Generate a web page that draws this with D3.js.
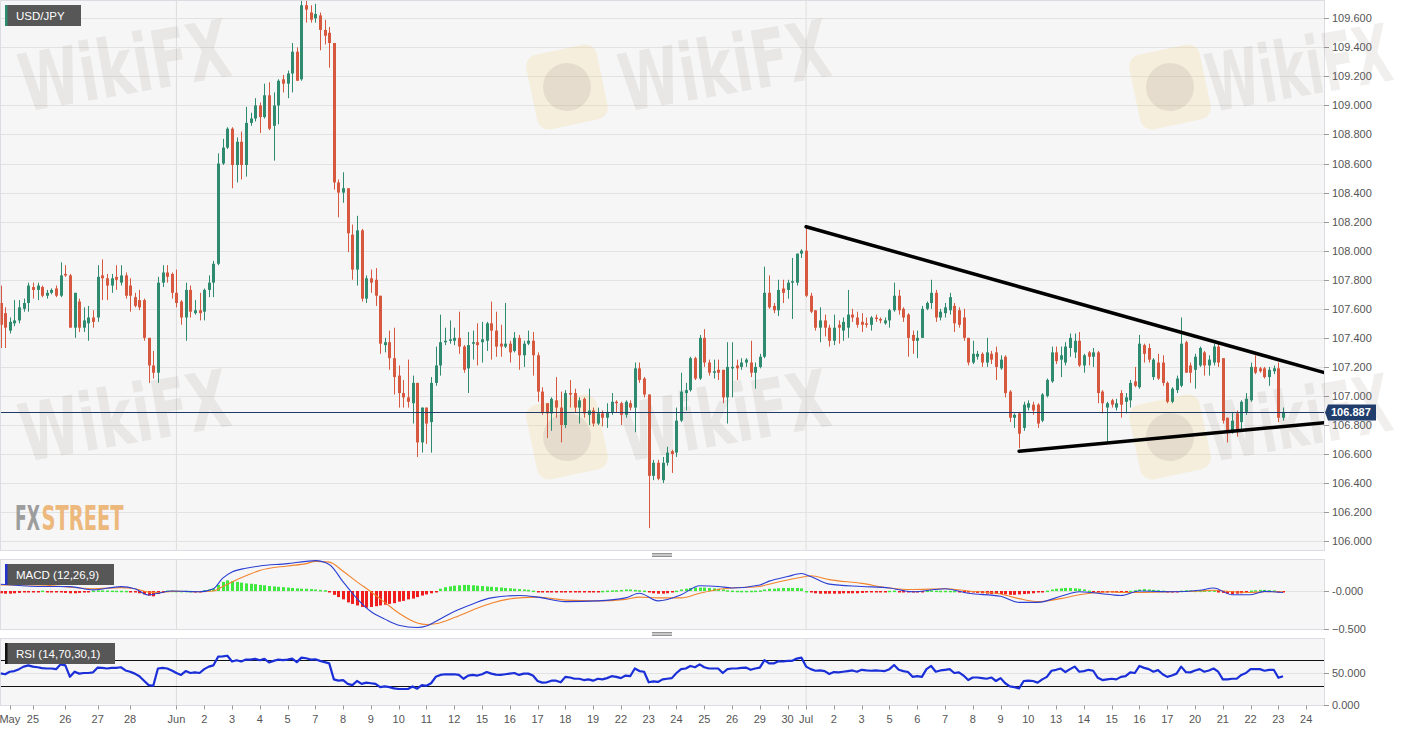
<!DOCTYPE html>
<html>
<head>
<meta charset="utf-8">
<script src="https://cdn.jsdelivr.net/npm/d3@7"></script>
<style>
  html, body { margin: 0; padding: 0; background: #fff; }
  svg { display: block; font-family: "Liberation Sans", Arial, sans-serif; }
</style>
</head>
<body>
<div id="chart"></div>
<script>
// USD/JPY 4h candles, May 22 - Jul 23
var openP = [
 107.64,107.57,107.45,107.50,107.52,107.60,107.64,107.75,107.73,107.75,
 107.69,107.71,107.74,107.69,107.84,107.83,107.47,107.65,107.47,107.50,
 107.54,107.54,107.83,107.81,107.76,107.82,107.78,107.83,107.76,107.68,
 107.66,107.66,107.40,107.21,107.16,107.78,107.85,107.84,107.71,107.65,
 107.54,107.73,107.57,107.59,107.58,107.73,107.78,107.91,108.60,108.71,
 108.84,108.59,108.75,108.59,108.88,108.91,109.00,108.92,109.07,108.86,
 109.00,109.18,109.15,109.22,109.37,109.18,109.69,109.64,109.60,109.62,
 109.52,109.50,109.43,108.47,108.40,108.43,108.11,107.87,108.14,107.67,
 107.81,107.80,107.69,107.35,107.37,107.26,107.14,107.02,106.99,106.95,
 107.09,106.68,106.92,106.82,107.09,107.21,107.37,107.38,107.38,107.40,
 107.34,107.19,107.36,107.37,107.37,107.38,107.50,107.45,107.36,107.34,
 107.36,107.31,107.40,107.28,107.36,107.38,107.28,107.03,106.95,106.88,
 106.97,106.92,106.80,107.02,107.02,106.92,106.98,106.87,106.90,106.81,
 106.88,106.85,106.89,106.96,106.95,106.87,106.95,106.92,107.19,107.12,
 107.01,106.45,106.54,106.42,106.54,106.62,106.61,106.83,107.02,107.04,
 107.26,107.12,107.40,107.23,107.16,107.18,107.18,106.99,107.19,107.21,
 107.20,107.23,107.23,107.16,107.20,107.27,107.71,107.62,107.59,107.74,
 107.73,107.78,107.78,107.98,108.00,107.69,107.59,107.47,107.52,107.47,
 107.38,107.49,107.45,107.47,107.56,107.54,107.51,107.50,107.49,107.54,
 107.53,107.50,107.52,107.59,107.69,107.60,107.56,107.42,107.38,107.40,
 107.60,107.64,107.71,107.54,107.57,107.59,107.62,107.59,107.54,107.40,
 107.23,107.27,107.29,107.23,107.29,107.30,107.19,107.27,107.03,106.85,
 106.88,106.78,106.92,106.94,106.94,106.83,107.00,107.10,107.30,107.25,
 107.23,107.33,107.30,107.38,107.21,107.30,107.27,107.30,107.03,106.92,
 106.97,106.92,107.02,106.96,106.97,107.10,107.06,107.35,107.33,107.13,
 107.23,107.23,107.09,106.96,107.04,107.07,107.37,107.21,107.18,107.21,
 107.30,107.21,107.23,107.34,107.26,106.85,106.76,106.88,106.82,106.89,
 106.97,107.20,107.19,107.19,107.13,107.17,107.19,106.85
];
var highP = [
 107.76,107.61,107.54,107.66,107.66,107.67,107.78,107.78,107.78,107.76,
 107.73,107.74,107.76,107.92,107.90,107.84,107.71,107.67,107.61,107.62,
 107.59,107.90,107.94,107.84,107.84,107.90,107.90,107.85,107.81,107.71,
 107.73,107.67,107.40,107.31,107.82,107.90,107.90,107.85,107.87,107.66,
 107.78,107.76,107.66,107.71,107.74,107.83,107.93,108.67,108.77,108.85,
 108.85,108.78,108.82,108.99,108.95,109.05,109.02,109.15,109.16,109.09,
 109.18,109.21,109.24,109.43,109.40,109.72,109.72,109.69,109.70,109.64,
 109.59,109.54,109.43,108.49,108.54,108.43,108.18,108.24,108.15,107.83,
 107.87,107.88,107.69,107.40,107.45,107.47,107.21,107.11,107.25,107.14,
 107.09,106.92,106.92,107.13,107.34,107.56,107.47,107.52,107.47,107.58,
 107.35,107.44,107.45,107.50,107.51,107.51,107.65,107.58,107.49,107.64,
 107.38,107.44,107.42,107.38,107.45,107.44,107.30,107.06,106.95,106.99,
 107.13,107.03,107.04,107.11,107.05,106.99,106.99,107.05,106.92,106.92,
 106.90,106.95,107.02,106.97,106.96,106.97,106.97,107.23,107.23,107.13,
 107.01,106.56,106.56,106.58,106.65,106.63,106.92,107.16,107.09,107.27,
 107.27,107.42,107.46,107.25,107.25,107.25,107.18,107.37,107.37,107.25,
 107.26,107.26,107.38,107.23,107.29,107.89,107.83,107.64,107.80,107.80,
 107.80,107.95,107.98,108.01,108.16,107.71,107.59,107.61,107.56,107.49,
 107.56,107.52,107.54,107.73,107.60,107.58,107.57,107.54,107.55,107.56,
 107.54,107.54,107.60,107.78,107.73,107.61,107.57,107.45,107.45,107.62,
 107.65,107.80,107.73,107.60,107.64,107.71,107.64,107.61,107.60,107.40,
 107.38,107.31,107.30,107.40,107.31,107.34,107.28,107.28,107.04,106.88,
 106.89,106.96,106.97,106.96,106.95,107.02,107.12,107.34,107.34,107.34,
 107.37,107.43,107.43,107.44,107.29,107.31,107.33,107.31,107.04,106.96,
 106.98,106.98,107.04,107.02,107.11,107.20,107.42,107.36,107.36,107.26,
 107.29,107.28,107.10,107.06,107.14,107.54,107.38,107.23,107.29,107.34,
 107.31,107.28,107.36,107.36,107.26,106.85,106.89,106.90,106.97,107.02,
 107.23,107.28,107.20,107.20,107.20,107.21,107.23,106.92
];
var lowP = [
 107.33,107.33,107.43,107.48,107.50,107.58,107.58,107.67,107.66,107.68,
 107.67,107.70,107.68,107.68,107.82,107.47,107.40,107.44,107.44,107.38,
 107.47,107.51,107.66,107.66,107.71,107.73,107.76,107.67,107.58,107.61,
 107.59,107.38,107.09,107.12,107.09,107.75,107.78,107.67,107.61,107.49,
 107.38,107.54,107.56,107.52,107.52,107.68,107.68,107.90,108.59,108.70,
 108.43,108.47,108.49,108.51,108.86,108.89,108.81,108.91,108.83,108.62,
 108.87,109.09,109.05,109.09,109.17,109.17,109.57,109.57,109.57,109.38,
 109.42,109.26,108.42,108.23,108.33,107.99,107.80,107.76,107.65,107.64,
 107.71,107.62,107.29,107.30,107.18,107.01,106.92,106.92,106.92,106.81,
 106.58,106.61,106.67,106.61,107.07,107.14,107.35,107.36,107.35,107.29,
 107.16,107.02,107.25,107.21,107.23,107.31,107.25,107.27,107.27,107.33,
 107.23,107.30,107.18,107.20,107.35,107.14,106.96,106.87,106.71,106.76,
 106.85,106.68,106.78,106.92,106.89,106.81,106.85,106.80,106.79,106.80,
 106.79,106.78,106.87,106.89,106.80,106.85,106.90,106.75,107.09,106.99,
 106.09,106.42,106.42,106.40,106.52,106.47,106.58,106.82,106.90,107.03,
 107.11,107.11,107.20,107.14,107.12,107.11,106.95,106.81,106.99,107.11,
 107.18,107.20,107.13,107.05,107.19,107.26,107.60,107.57,107.55,107.64,
 107.67,107.53,107.76,107.95,107.68,107.57,107.45,107.37,107.41,107.34,
 107.35,107.36,107.38,107.40,107.51,107.47,107.44,107.47,107.45,107.51,
 107.50,107.49,107.47,107.58,107.56,107.51,107.27,107.29,107.26,107.40,
 107.59,107.60,107.51,107.52,107.54,107.56,107.44,107.47,107.38,107.21,
 107.22,107.25,107.20,107.20,107.22,107.11,107.18,106.99,106.82,106.78,
 106.64,106.76,106.90,106.87,106.78,106.82,106.99,107.09,107.22,107.13,
 107.21,107.27,107.26,107.20,107.16,107.21,107.20,106.95,106.88,106.68,
 106.92,106.90,106.85,106.88,106.92,107.06,107.05,107.23,107.23,107.11,
 107.11,107.07,106.95,106.95,107.02,107.06,107.16,107.09,107.05,107.20,
 107.14,107.14,107.21,107.20,106.81,106.68,106.74,106.72,106.76,106.87,
 106.96,107.15,107.16,107.12,107.07,107.15,106.82,106.83
];
var closeP = [
 107.49,107.47,107.51,107.52,107.61,107.64,107.76,107.73,107.76,107.69,
 107.71,107.73,107.69,107.83,107.83,107.47,107.71,107.47,107.52,107.54,
 107.51,107.82,107.81,107.76,107.81,107.80,107.83,107.69,107.69,107.62,
 107.61,107.40,107.21,107.16,107.78,107.85,107.82,107.71,107.64,107.54,
 107.73,107.58,107.59,107.57,107.73,107.78,107.91,108.60,108.71,108.84,
 108.59,108.75,108.59,108.88,108.91,109.00,108.92,109.07,108.84,109.00,
 109.17,109.15,109.22,109.37,109.17,109.69,109.66,109.59,109.63,109.52,
 109.48,109.43,108.47,108.40,108.43,108.12,107.87,108.14,107.67,107.81,
 107.78,107.69,107.36,107.37,107.26,107.13,107.02,106.99,106.96,107.09,
 106.68,106.92,106.81,107.09,107.21,107.37,107.38,107.39,107.40,107.34,
 107.18,107.35,107.37,107.35,107.39,107.50,107.45,107.34,107.34,107.36,
 107.30,107.40,107.28,107.36,107.38,107.28,107.03,106.89,106.88,106.98,
 106.92,106.80,107.02,107.01,106.92,106.97,106.88,106.90,106.81,106.88,
 106.85,106.89,106.96,106.95,106.87,106.96,106.92,107.19,107.11,107.01,
 106.45,106.54,106.43,106.54,106.61,106.60,106.83,107.03,107.04,107.26,
 107.12,107.40,107.23,107.16,107.17,107.16,106.99,107.20,107.20,107.19,
 107.23,107.25,107.16,107.20,107.27,107.71,107.61,107.59,107.73,107.71,
 107.78,107.79,107.98,108.00,107.69,107.58,107.47,107.52,107.47,107.38,
 107.47,107.47,107.51,107.56,107.54,107.49,107.49,107.49,107.54,107.53,
 107.52,107.52,107.59,107.69,107.59,107.54,107.40,107.38,107.40,107.60,
 107.64,107.71,107.54,107.58,107.61,107.68,107.50,107.49,107.40,107.23,
 107.29,107.29,107.23,107.30,107.25,107.20,107.25,107.02,106.85,106.87,
 106.74,106.94,106.95,106.90,106.81,107.01,107.11,107.30,107.24,107.28,
 107.34,107.40,107.38,107.21,107.28,107.27,107.30,107.02,106.95,106.95,
 106.94,106.95,106.94,106.99,107.09,107.07,107.36,107.29,107.25,107.25,
 107.12,107.09,106.96,107.05,107.12,107.36,107.16,107.16,107.27,107.33,
 107.21,107.25,107.34,107.23,106.83,106.76,106.83,106.76,106.96,106.98,
 107.20,107.16,107.17,107.13,107.18,107.19,106.85,106.887
];

// MACD (12,26,9): lines read at these candle positions
var macdAt = [0,8,15,20,26,29,32,34,37,43,46,48,50,53,56,62,66,68,71,74,77,80,83,86,90,92,94,98,102,106,
  112,116,122,129,135,138,142,147,151,155,158,164,166,170,173,175,179,186,192,197,204,209,216,220,224,229,
  233,240,242,246,253,259,262,266,270,273,277];
var macdLine = [0.088,0.06,0.057,0.015,0.057,0.03,-0.053,-0.03,0.0,-0.01,0.03,0.17,0.25,0.30,0.33,0.36,0.39,0.40,0.35,0.12,
  -0.10,-0.27,-0.37,-0.45,-0.48,-0.46,-0.40,-0.27,-0.17,-0.09,-0.06,-0.08,-0.14,-0.13,-0.09,-0.03,-0.13,-0.05,0.07,0.06,
  0.04,0.08,0.13,0.19,0.23,0.19,0.09,0.06,0.04,-0.01,0.03,-0.03,-0.07,-0.15,-0.15,-0.07,-0.01,-0.05,-0.06,0.0,
  -0.01,0.01,0.04,-0.05,-0.05,-0.005,-0.02];
var signalLine = [0.079,0.079,0.05,0.03,0.045,0.03,-0.015,-0.02,-0.005,-0.01,0.0,0.06,0.12,0.20,0.27,0.33,0.36,0.39,0.38,0.26,
  0.12,-0.01,-0.15,-0.29,-0.42,-0.44,-0.43,-0.35,-0.25,-0.16,-0.09,-0.08,-0.12,-0.13,-0.11,-0.08,-0.09,-0.09,-0.03,0.02,
  0.04,0.06,0.09,0.145,0.18,0.20,0.15,0.10,0.04,0.02,0.03,0.0,-0.04,-0.10,-0.14,-0.10,-0.05,-0.01,-0.02,-0.02,
  -0.01,0.0,0.01,-0.01,-0.02,-0.01,-0.01];
var macdHist = [
 -0.03,-0.035,-0.035,-0.03,-0.025,-0.015,-0.01,-0.005,-0.005,0.005,
 -0.005,-0.01,-0.015,-0.02,-0.025,-0.03,-0.03,-0.025,-0.02,-0.01,
 0.005,0.008,0.008,0.006,0.005,0.004,0.003,0.002,-0.005,-0.015,
 -0.03,-0.045,-0.06,-0.07,-0.04,-0.01,0.005,0.004,0.003,0.002,
 0.003,0.002,-0.003,-0.002,0.01,0.02,0.03,0.08,0.12,0.14,
 0.13,0.12,0.11,0.10,0.095,0.09,0.08,0.075,0.065,0.06,
 0.055,0.05,0.045,0.04,0.035,0.03,0.03,0.025,0.02,0.015,
 0.01,-0.01,-0.05,-0.08,-0.11,-0.15,-0.17,-0.19,-0.21,-0.22,
 -0.21,-0.2,-0.19,-0.18,-0.17,-0.16,-0.14,-0.13,-0.11,-0.1,
 -0.08,-0.06,-0.045,-0.03,-0.005,0.03,0.05,0.06,0.07,0.075,
 0.08,0.08,0.075,0.07,0.065,0.06,0.055,0.05,0.045,0.04,
 0.035,0.03,0.025,0.02,0.015,0.005,-0.005,-0.01,-0.015,-0.02,
 -0.02,-0.02,-0.02,-0.02,-0.015,-0.01,-0.01,-0.005,-0.005,-0.003,
 0.002,0.005,0.008,0.01,0.015,0.02,0.02,0.015,0.01,0.005,
 -0.01,-0.03,-0.035,-0.035,-0.03,-0.02,0.005,0.02,0.03,0.04,
 0.045,0.045,0.045,0.04,0.035,0.03,0.02,0.01,0.005,0.003,
 0.002,0.002,0.003,0.005,0.008,0.02,0.03,0.03,0.035,0.04,
 0.04,0.04,0.04,0.035,0.0,-0.02,-0.03,-0.035,-0.035,-0.035,
 -0.035,-0.035,-0.03,-0.03,-0.03,-0.03,-0.025,-0.02,-0.015,-0.015,
 -0.01,-0.005,0.003,0.005,-0.005,-0.01,-0.015,-0.02,-0.02,-0.01,
 0.005,0.008,0.005,0.003,0.003,0.002,0.002,-0.003,-0.01,-0.015,
 -0.02,-0.025,-0.03,-0.035,-0.04,-0.04,-0.04,-0.045,-0.05,-0.05,
 -0.045,-0.04,-0.035,-0.03,-0.02,-0.01,0.005,0.02,0.03,0.035,
 0.04,0.04,0.035,0.03,0.02,0.005,-0.005,-0.01,-0.015,-0.015,
 -0.015,-0.01,-0.01,-0.005,0.003,0.01,0.02,0.025,0.02,0.015,
 0.01,0.005,-0.003,-0.005,-0.003,0.005,0.01,0.008,0.005,0.005,
 0.008,0.01,0.008,-0.01,-0.025,-0.035,-0.04,-0.035,-0.03,-0.02,
 0.005,0.01,0.015,0.015,0.01,0.008,-0.005,-0.01
];

// RSI (14)
var rsi = [
 49.5,48,52,53,56,60,62,60,59,57.5,
 57,57,56,63.5,62,44,52,49,50,50,
 51,58.5,58,57,58,58,59,54,52,49,
 45,38,31,30,57,58,57,54,50,47,
 53,50,51,50,56,60,62,75.5,76,77,
 68,70,68,71,71,72,70,72,66.5,69,
 71,70,71,72.5,67,74,73,71,71.5,69,
 67,65,40,38,39,33,31,37.5,33,35,
 34,33,28,29,28,26,25,25,25,29,
 25.5,31,30,34,44,47,48,48,48,47,
 41,46,47,46,48,51.5,49,47.5,47,48,
 49,50,47,49,49,46,37.5,35,35.5,38,
 38,35.5,44,43,41,41,39,40,38,41,
 40,42,45,44,42,46,45,57,53,52,
 35.5,37,36,40,41,42,50,56,57,61,
 59,63.5,59,57,57,57,50,56,57,57,
 58,58.5,55,57,58.5,70,65,65,68.5,68,
 69,69,72.5,74,60,56,53.5,54,53,48.5,
 51.5,51,52,53,54,52,55,54,53.5,54,
 53.5,53,56,62.5,55,53,51.5,44,45,44,
 56,61,52,54,55,56,50,51,46,39,
 43,43,42,41,43,37.5,42,34,29,28,
 26,37.5,38,37.5,35,40,44,53.5,55,57,
 51.5,56,60,52,53,55,53.5,42.5,39,40,
 41,40,44,45,51,50,61,58,56,52,
 54.5,48,44,46,49,60,51.5,51,54,56,
 52,54,57,52,40,40,41,41,47,50,
 56,56,56,53.5,55,55,42.5,45
];

// x-axis tick labels and the candle they sit on
var tickLabels = ["May","25","26","27","28","Jun","2","3","4","5","7","8","9","10","11","12","15","16","17","18","19",
  "22","23","24","25","26","29","30","Jul","2","3","5","6","7","8","9","10","13","14","15","16","17","20","21","22","23","24"];
var tickAt = [2,7,14,21,28,38,44,50,56,62,68,74,80,86,92,98,104,110,116,122,128,
  134,140,146,152,158,164,170,174,180,186,192,198,204,210,216,222,228,234,240,246,252,258,264,270,276,282];
var monthAt = [38, 174];

var priceTicks = d3.range(106, 109.61, 0.2);
var lastPrice = 106.887;

// hand drawn triangle: [candle, price]
var upperLine = [[174, 108.165], [286, 107.16]];
var lowerLine = [[220, 106.62], [286, 106.816]];

var W = 1413, H = 732, panelW = 1324;
var main = {top: 0.5, bottom: 550.5};
var macdP = {top: 559.5, bottom: 629.5};
var rsiP = {top: 638.5, bottom: 705.5};

var green = "#2f8b6f", red = "#d6583f";

var svg = d3.select("#chart").append("svg")
  .attr("width", W)
  .attr("height", H);

var x = d3.scaleLinear().domain([0, 286]).range([0.5, 0.5 + 286 * 4.63]);
var y = d3.scaleLinear().domain([106, 109.6]).range([541.2, 18.3]);
var yM = d3.scaleLinear().domain([-0.5, 0]).range([629, 591]);
var yR = d3.scaleLinear().domain([0, 50]).range([705, 673]);

// shrink a text's font to a given width; returns the y-stretch that keeps its height
function fitText(sel, w) {
  var fs = +sel.attr("font-size");
  var len = sel.node().getComputedTextLength();
  var nfs = fs * w / len;
  sel.attr("font-size", nfs);
  return fs / nfs;
}

var defs = svg.append("defs");
[["clipMain", main], ["clipMacd", macdP], ["clipRsi", rsiP]].forEach(function(c) {
  defs.append("clipPath").attr("id", c[0])
    .append("rect")
    .attr("x", 0.5).attr("y", c[1].top)
    .attr("width", panelW - 0.5).attr("height", c[1].bottom - c[1].top);
});

// panel backgrounds
[main, macdP, rsiP].forEach(function(p) {
  svg.append("rect")
    .attr("x", 0.5).attr("y", p.top)
    .attr("width", panelW).attr("height", p.bottom - p.top)
    .attr("fill", "#f6f6f6")
    .attr("stroke", "#dcdde3");
});

// month lines
[main, macdP, rsiP].forEach(function(p) {
  svg.selectAll(null).data(monthAt).enter().append("line")
    .attr("x1", function(d) { return x(d); }).attr("x2", function(d) { return x(d); })
    .attr("y1", p.top).attr("y2", p.bottom)
    .attr("stroke", "#dedede");
});

// horizontal grid, main
svg.append("g").selectAll("line").data(priceTicks).enter().append("line")
  .attr("x1", 1).attr("x2", panelW)
  .attr("y1", function(d) { return Math.round(y(d)) + 0.5; })
  .attr("y2", function(d) { return Math.round(y(d)) + 0.5; })
  .attr("stroke", "#e2e2e2");

// grid in the indicator panels
svg.append("line").attr("x1", 1).attr("x2", panelW)
  .attr("y1", yM(0) + 0.5).attr("y2", yM(0) + 0.5).attr("stroke", "#e2e2e2");
svg.append("line").attr("x1", 1).attr("x2", panelW)
  .attr("y1", yR(50) + 0.5).attr("y2", yR(50) + 0.5).attr("stroke", "#e2e2e2");

// right axis
var axisG = svg.append("g").attr("font-size", 11).attr("fill", "#555");
function rightTicks(vals, scale, fmt) {
  vals.forEach(function(v) {
    var yy = Math.round(scale(v)) + 0.5;
    axisG.append("line").attr("x1", panelW).attr("x2", panelW + 5)
      .attr("y1", yy).attr("y2", yy).attr("stroke", "#999");
    axisG.append("text").attr("x", panelW + 8).attr("y", yy).attr("dy", "0.35em")
      .text(fmt(v));
  });
}
rightTicks(priceTicks, y, d3.format(".3f"));
rightTicks([0, -0.5], yM, function(v) { return v === 0 ? "-0.000" : d3.format(".3f")(v); });
rightTicks([50, 0], yR, d3.format(".3f"));

// x axis
var xa = svg.append("g").attr("font-size", 11).attr("fill", "#555");
xa.selectAll("line").data(tickAt).enter().append("line")
  .attr("x1", function(d) { return Math.round(x(d)) + 0.5; })
  .attr("x2", function(d) { return Math.round(x(d)) + 0.5; })
  .attr("y1", rsiP.bottom).attr("y2", rsiP.bottom + 4)
  .attr("stroke", "#999");
xa.selectAll("text").data(tickLabels).enter().append("text")
  .attr("x", function(d, i) { return x(tickAt[i]); })
  .attr("y", 723)
  .attr("text-anchor", "middle")
  .text(function(d) { return d; });

// WikiFX watermarks (drawn under the marks)
var wm = svg.append("g").attr("pointer-events", "none");
function wmText(tx, ty, len) {
  var t = wm.append("text")
    .attr("font-family", "'Liberation Sans Narrow', 'DejaVu Sans Condensed', sans-serif")
    .attr("font-weight", "bold").attr("font-size", 80)
    .attr("fill", "#8c7a76").attr("fill-opacity", 0.12)
    .text("WikiFX");
  var k = fitText(t, len);
  t.attr("transform", "translate(" + tx + "," + ty + ") rotate(-10) scale(1," + k + ")");
}
function wmLogo(cx, cy) {
  var g = wm.append("g").attr("transform", "translate(" + cx + "," + cy + ") rotate(-12)");
  g.append("rect").attr("x", -36).attr("y", -38).attr("width", 72).attr("height", 76).attr("rx", 12)
    .attr("fill", "#f3d37a").attr("fill-opacity", 0.2);
  g.append("circle").attr("r", 24).attr("fill", "#8c7a76").attr("fill-opacity", 0.15);
}
[0, 350].forEach(function(dy) {
  wmText(25, 112 + dy, 212);
  wmLogo(567, 87 + dy);
  wmText(625, 112 + dy, 212);
  wmLogo(1170, 87 + dy);
  wmText(1212, 112 + dy, 186);
});

// candles
var cg = svg.append("g").attr("clip-path", "url(#clipMain)");
var candles = cg.selectAll(".candle").data(closeP).enter().append("g")
  .attr("class", "candle");
candles.append("line")
  .attr("x1", function(d, i) { return Math.round(x(i)) + 0.5; })
  .attr("x2", function(d, i) { return Math.round(x(i)) + 0.5; })
  .attr("y1", function(d, i) { return y(highP[i]); })
  .attr("y2", function(d, i) { return y(lowP[i]); })
  .attr("stroke", function(d, i) { return d >= openP[i] ? green : red; })
  .attr("stroke-width", 1);
candles.append("rect")
  .attr("x", function(d, i) { return Math.round(x(i)) - 1; })
  .attr("width", 3)
  .attr("y", function(d, i) { return y(Math.max(d, openP[i])); })
  .attr("height", function(d, i) { return Math.max(1.5, Math.abs(y(d) - y(openP[i]))); })
  .attr("fill", function(d, i) { return d >= openP[i] ? green : red; });

// last price line
var ly = Math.round(y(lastPrice)) + 0.5;
svg.append("line").attr("x1", 1).attr("x2", panelW)
  .attr("y1", ly).attr("y2", ly)
  .attr("stroke", "#1f3a66").attr("stroke-width", 1);

// triangle trendlines
[upperLine, lowerLine].forEach(function(l) {
  cg.append("line")
    .attr("x1", x(l[0][0])).attr("y1", y(l[0][1]))
    .attr("x2", x(l[1][0])).attr("y2", y(l[1][1]))
    .attr("stroke", "#000").attr("stroke-width", 3.5)
    .attr("stroke-linecap", "round");
});

// MACD histogram + lines
var mg = svg.append("g").attr("clip-path", "url(#clipMacd)");
mg.selectAll("rect").data(macdHist).enter().append("rect")
  .attr("x", function(d, i) { return Math.round(x(i)) - 1; })
  .attr("width", 3)
  .attr("y", function(d) { return d >= 0 ? yM(d) : yM(0); })
  .attr("height", function(d) { return Math.max(1.5, Math.abs(yM(d) - yM(0))); })
  .attr("fill", function(d) { return d >= 0 ? "#3ee83e" : "#f01d1d"; });

var macdPath = d3.line()
  .x(function(d, i) { return x(macdAt[i]); })
  .y(function(d) { return yM(d); })
  .curve(d3.curveMonotoneX);
mg.append("path").datum(signalLine).attr("d", macdPath)
  .attr("fill", "none").attr("stroke", "#f2842e").attr("stroke-width", 1.1);
mg.append("path").datum(macdLine).attr("d", macdPath)
  .attr("fill", "none").attr("stroke", "#2b3fd4").attr("stroke-width", 1.1);

// RSI
var rg = svg.append("g").attr("clip-path", "url(#clipRsi)");
[70, 30].forEach(function(v) {
  rg.append("line").attr("x1", 1).attr("x2", panelW)
    .attr("y1", Math.round(yR(v)) + 0.5).attr("y2", Math.round(yR(v)) + 0.5)
    .attr("stroke", "#111").attr("stroke-width", 1.2);
});
rg.append("path").datum(rsi)
  .attr("d", d3.line().x(function(d, i) { return x(i); }).y(function(d) { return yR(d); }))
  .attr("fill", "none").attr("stroke", "#1a2fd8").attr("stroke-width", 2.2)
  .attr("stroke-linejoin", "round");

// panel handles
[555, 634].forEach(function(hy) {
  [-1.5, 0, 1.5].forEach(function(o) {
    svg.append("line").attr("x1", 652).attr("x2", 672)
      .attr("y1", hy + o).attr("y2", hy + o)
      .attr("stroke", "#777").attr("stroke-width", 0.8);
  });
});

// label boxes
function labelBox(bx, by, w, txt, bar) {
  svg.append("rect").attr("x", bx).attr("y", by).attr("width", w).attr("height", 21)
    .attr("fill", "#575757");
  svg.append("rect").attr("x", bx).attr("y", by).attr("width", 2.5).attr("height", 21)
    .attr("fill", bar);
  svg.append("text").attr("x", bx + 11).attr("y", by + 15)
    .attr("font-size", 11.5).attr("fill", "#fff").text(txt);
}
labelBox(5, 5, 76, "USD/JPY", green);
labelBox(5, 564, 109, "MACD (12,26,9)", "#2233cc");
labelBox(5, 643, 110, "RSI (14,70,30,1)", "#111");

// last price tag
svg.append("path")
  .attr("d", "M" + (panelW + 1) + "," + ly + " L" + (panelW + 4) + "," + (ly - 8) + " L1376," + (ly - 8) +
        " L1376," + (ly + 8) + " L" + (panelW + 4) + "," + (ly + 8) + " Z")
  .attr("fill", "#213d6b");
svg.append("text").attr("x", 1331).attr("y", ly).attr("dy", "0.36em")
  .attr("font-size", 11).attr("font-weight", "bold").attr("fill", "#fff")
  .text(d3.format(".3f")(lastPrice));

// FXStreet mark
[["FX", "#9d9d9d", 15, 25], ["STREET", "#ecb87c", 41.5, 82]].forEach(function(p) {
  var t = svg.append("text")
    .attr("font-family", "'Liberation Sans Narrow', 'DejaVu Sans Condensed', sans-serif")
    .attr("font-weight", "bold").attr("font-size", 34)
    .attr("fill", p[1]).text(p[0]);
  var k = fitText(t, p[3]);
  t.attr("transform", "translate(" + p[2] + ",530) scale(1," + k + ")");
});
</script>
</body>
</html>
